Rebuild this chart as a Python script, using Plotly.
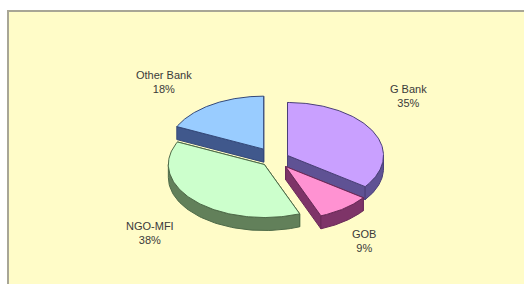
import numpy as np
import plotly.graph_objects as go

# ---- data ----
labels = ["G Bank", "GOB", "NGO-MFI", "Other Bank"]
values = [35, 9, 38, 18]

# ---- style ----
top_colors = ["#C9A0FF", "#FF92D2", "#CCFFCC", "#99CCFF"]
side_colors = ["#5F5294", "#7E3468", "#62805A", "#40588C"]
line_colors = ["#4A3F78", "#6A2A58", "#4E6A48", "#34497A"]
pulls_px = [13, 13, 12, 15]
label_pos = [(408, 96), (364, 241), (150, 233), (164, 82)]

W, H = 534, 294          # figure slightly larger than the 524x284 window; overflow is hidden
PANEL_X, PANEL_Y = 9, 12
CX, CY = 275, 159
RX, RY = 96, 53
DEPTH = 13

fig = go.Figure()

total = sum(values)
angles = []
a = 0.0
for v in values:
    b = a + 360.0 * v / total
    angles.append((a, b))
    a = b


def rim(cx, cy, th_deg):
    t = np.radians(th_deg)
    return cx + RX * np.sin(t), cy - RY * np.cos(t)


slices = []
for i, (a, b) in enumerate(angles):
    m = np.radians((a + b) / 2)
    vx, vy = RX * np.sin(m), -RY * np.cos(m)
    n = np.hypot(vx, vy)
    cx = CX + pulls_px[i] * vx / n
    cy = CY + pulls_px[i] * vy / n
    slices.append((i, a, b, cx, cy))

# back to front
slices.sort(key=lambda s: s[4] + 0.3 * (-np.cos(np.radians((s[1] + s[2]) / 2))))


def poly(xs, ys, fill, line):
    fig.add_trace(go.Scatter(x=list(xs) + [xs[0]], y=list(ys) + [ys[0]],
                             mode="lines", fill="toself", fillcolor=fill,
                             line=dict(color=line, width=1),
                             hoverinfo="skip", showlegend=False))


for i, a, b, cx, cy in slices:
    sc, lc, tc = side_colors[i], line_colors[i], top_colors[i]
    # radial cut faces
    for th in (a, b):
        px, py = rim(cx, cy, th)
        poly([cx, px, px, cx], [cy, py, py + DEPTH, cy + DEPTH], sc, lc)
    # curved outer wall (front half only)
    lo, hi = max(a, 90.0), min(b, 270.0)
    if hi > lo:
        ths = np.linspace(lo, hi, 60)
        xs, ys = rim(cx, cy, ths)
        poly(np.concatenate([xs, xs[::-1]]),
             np.concatenate([ys, ys[::-1] + DEPTH]), sc, lc)
    # top face
    ths = np.linspace(a, b, 120)
    xs, ys = rim(cx, cy, ths)
    poly(np.concatenate([[cx], xs]), np.concatenate([[cy], ys]), tc, lc)

annotations = []
for i, lab in enumerate(labels):
    pct = round(100.0 * values[i] / total)
    annotations.append(dict(x=label_pos[i][0], y=label_pos[i][1], xref="x", yref="y",
                            text=f"{lab}<br>{pct}%", showarrow=False,
                            font=dict(family="Liberation Sans, Arial", size=11, color="#3A3A3A"),
                            align="center"))

border = "#A8A696"
axis_common = dict(showgrid=False, zeroline=False, showticklabels=False, ticks="",
                   showline=True, linecolor=border, linewidth=2, mirror=False,
                   fixedrange=True)
fig.update_layout(
    width=W, height=H,
    margin=dict(l=PANEL_X, r=0, t=PANEL_Y, b=0, pad=0),
    paper_bgcolor="white", plot_bgcolor="#FFFCC8",
    xaxis=dict(range=[PANEL_X, W], side="top", **axis_common),
    yaxis=dict(range=[H, PANEL_Y], side="left", **axis_common),
    annotations=annotations,
)

fig.write_html("out.html", config={"displayModeBar": False},
               post_script="document.body.style.margin='0';document.body.style.overflow='hidden';")
